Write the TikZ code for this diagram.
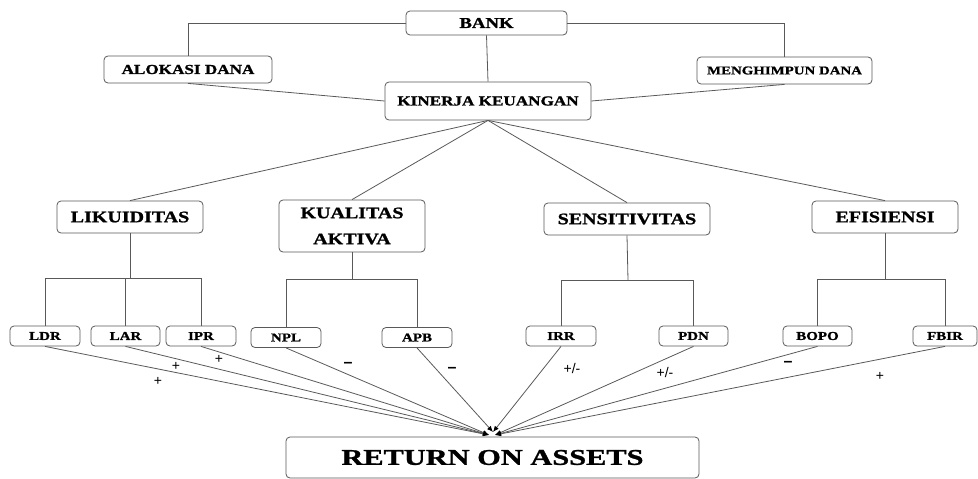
\documentclass[tikz,border=0pt]{standalone}
\usepackage{fontspec}
\usetikzlibrary{arrows.meta}
\newfontfamily\tnr[FakeStretch=1.25,FakeBold=1.2]{Liberation Serif}
\newfontfamily\tnrw[FakeStretch=1.35,FakeBold=1.2]{Liberation Serif}
\newfontfamily\arl{Liberation Sans}
\tikzset{
  box/.style={draw=black!65, line width=0.8pt, rounded corners=4pt, inner sep=0pt, align=center, text=black},
  big/.style={box, font=\tnr\bfseries\fontsize{16}{26}\selectfont},
  mid/.style={box, font=\tnr\bfseries\fontsize{13.7}{16}\selectfont},
  small/.style={box, font=\tnr\bfseries\fontsize{12}{14}\selectfont, minimum height=20pt},
  con/.style={draw=black!65, line width=0.8pt},
  arr/.style={con, -{Latex[length=6pt,width=5pt,color=black]}},
  sgn/.style={font=\arl\fontsize{14}{14}\selectfont, inner sep=0pt},
  neg/.style={font=\arl\bfseries\fontsize{16}{16}\selectfont, inner sep=0pt}
}
\begin{document}
\begin{tikzpicture}[x=1pt,y=-1pt]
\useasboundingbox (0,0) rectangle (978,479);
% top level
\node[box, font=\tnr\bfseries\fontsize{15}{16}\selectfont, minimum width=161pt, minimum height=24pt] (bank) at (486.5,23) {BANK};
\node[mid, minimum width=168pt, minimum height=27pt] (alok) at (188,69.5) {ALOKASI DANA};
\node[box, font=\tnr\bfseries\fontsize{11.9}{14}\selectfont, minimum width=175pt, minimum height=27pt] (meng) at (784.5,70.5) {MENGHIMPUN DANA};
\node[mid, minimum width=206pt, minimum height=38pt] (kin) at (488,101) {KINERJA KEUANGAN};
% categories
\node[big, minimum width=146pt, minimum height=32pt] (lik) at (130,217) {LIKUIDITAS};
\node[big, minimum width=146pt, minimum height=52pt] (kua) at (352,226) {KUALITAS\\AKTIVA};
\node[big, minimum width=166pt, minimum height=32pt] (sen) at (627,219) {SENSITIVITAS};
\node[big, minimum width=146pt, minimum height=32pt] (efi) at (885,217) {EFISIENSI};
% ratios
\node[small, minimum width=70pt] (ldr) at (45,336) {LDR};
\node[small, minimum width=69pt] (lar) at (125.5,336) {LAR};
\node[small, minimum width=70pt] (ipr) at (201,336) {IPR};
\node[small, minimum width=70pt] (npl) at (286,337.5) {NPL};
\node[small, minimum width=70pt] (apb) at (417,337.5) {APB};
\node[small, minimum width=70pt] (irr) at (561,336) {IRR};
\node[small, minimum width=69pt] (pdn) at (693.5,336) {PDN};
\node[small, minimum width=69pt] (bopo) at (817.5,336) {BOPO};
\node[small, minimum width=64pt] (fbir) at (945,336) {FBIR};
% result
\node[box, font=\tnrw\bfseries\fontsize{22.5}{24}\selectfont, minimum width=413pt, minimum height=41pt] (roa) at (492.5,457.5) {RETURN ON ASSETS};
% top connectors
\draw[con] (bank.west) -| (alok.north);
\draw[con] (bank.east) -| (meng.north);
\draw[con] (bank.south) -- (kin.north);
\draw[con] (alok.south) -- (kin.west);
\draw[con] (meng.south) -- (kin.east);
\foreach \n in {lik,kua,sen,efi} \draw[con] (kin.south) -- (\n.north);
% tree brackets
\coordinate (b1) at (130,278);
\coordinate (b2) at (352,279);
\coordinate (b3) at (628,280);
\coordinate (b4) at (885,279);
\draw[con] (lik.south) -- (b1);
\draw[con] (ldr.north) |- (ipr.north |- b1) -- (ipr.north);
\draw[con] (lar.north) -- (lar.north |- b1);
\draw[con] (kua.south) -- (b2);
\draw[con] (npl.north) |- (apb.north |- b2) -- (apb.north);
\draw[con] (sen.south) -- (b3);
\draw[con] (irr.north) |- (pdn.north |- b3) -- (pdn.north);
\draw[con] (efi.south) -- (b4);
\draw[con] (bopo.north) |- (fbir.north |- b4) -- (fbir.north);
% arrows to ROA
\coordinate (tipL) at (489,435);
\coordinate (tipM) at (493,432);
\coordinate (tipR) at (495,435);
\foreach \n in {ldr,lar,ipr,npl} \draw[arr] (\n.south) -- (tipL);
\draw[arr] (apb.south) -- (tipM);
\draw[arr] (irr.south) -- (tipM);
\foreach \n in {pdn,bopo,fbir} \draw[arr] (\n.south) -- (tipR);
% signs
\node[sgn] (s1) at (158,381) {+};
\node[sgn] (s2) at (176,366) {+};
\node[sgn] (s3) at (219,359) {+};
\node[neg] (s4) at (348,365) {–};
\node[neg] (s5) at (452,370) {–};
\node[sgn] (s6) at (572,368) {+/-};
\node[sgn] (s7) at (665,372) {+/-};
\node[neg] (s8) at (788,364) {–};
\node[sgn] (s9) at (880,376) {+};
\end{tikzpicture}
\end{document}
